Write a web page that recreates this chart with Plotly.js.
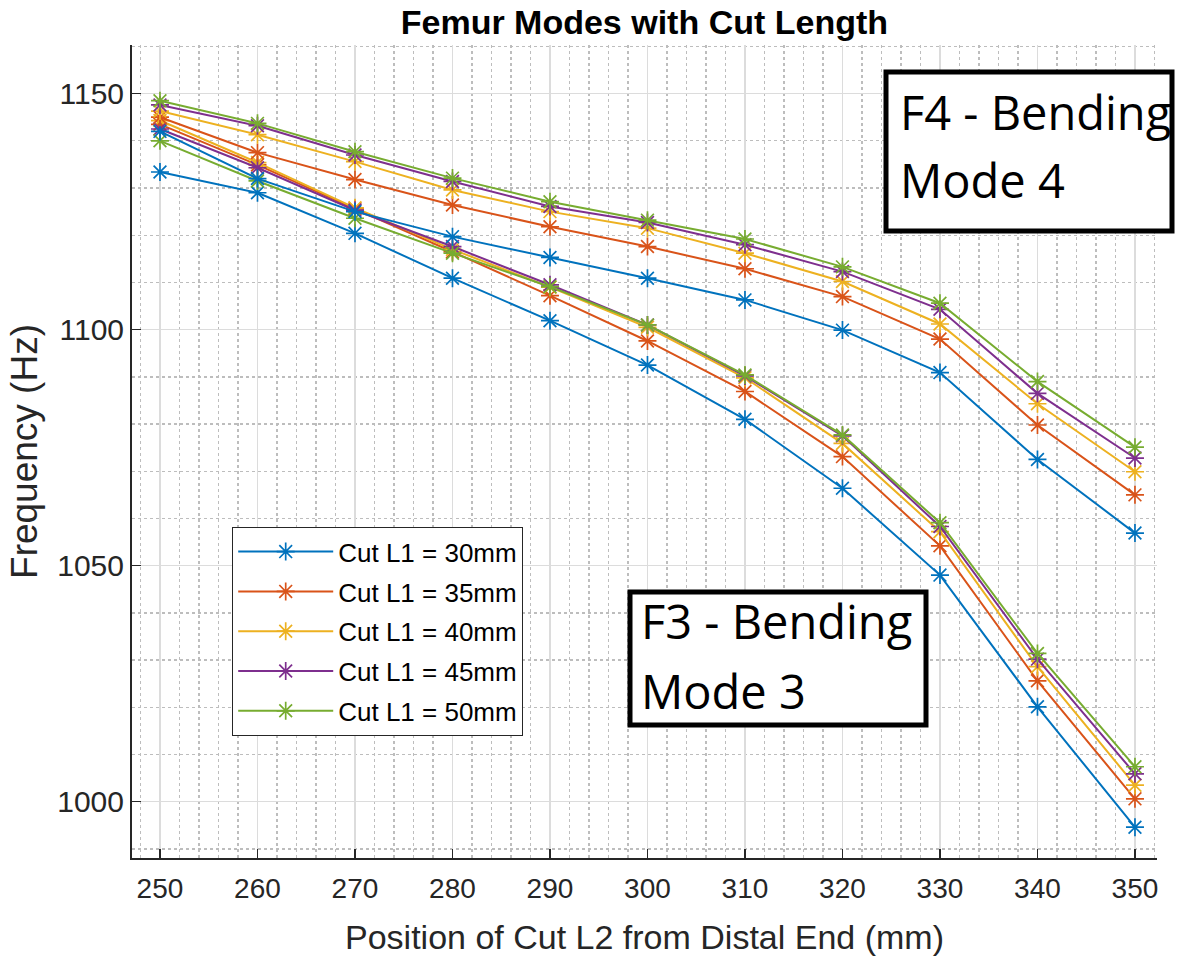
<!DOCTYPE html>
<html>
<head>
<meta charset="utf-8">
<script src="https://cdn.plot.ly/plotly-3.0.1.min.js"></script>
<style>html,body{margin:0;padding:0;background:#fff;}#chart{width:1200px;height:964px;}</style>
</head>
<body>
<div id="chart"></div>
<script>
// Position of Cut L2 from distal end (mm)
const positions = [250, 260, 270, 280, 290, 300, 310, 320, 330, 340, 350];
const seriesNames = ["Cut L1 = 30mm", "Cut L1 = 35mm", "Cut L1 = 40mm", "Cut L1 = 45mm", "Cut L1 = 50mm"];
const seriesColors = ["#0072BD", "#D95319", "#EDB120", "#7E2F8E", "#77AC30"];

// F4 - Bending Mode 4 (Hz)
const mode4_30 = [1142.0, 1132.0, 1125.0, 1119.7, 1115.3, 1110.9, 1106.3, 1099.9, 1090.9, 1072.5, 1056.9];
const mode4_35 = [1145.0, 1137.5, 1131.8, 1126.4, 1121.8, 1117.6, 1112.9, 1107.0, 1098.0, 1079.8, 1065.0];
const mode4_40 = [1146.3, 1141.3, 1135.6, 1129.6, 1125.0, 1121.5, 1116.2, 1110.2, 1101.2, 1084.3, 1069.9];
const mode4_45 = [1147.6, 1143.2, 1137.0, 1131.4, 1126.1, 1122.7, 1118.0, 1112.3, 1104.3, 1086.5, 1072.8];
const mode4_50 = [1148.5, 1143.7, 1137.7, 1132.1, 1127.1, 1123.2, 1119.2, 1113.3, 1105.6, 1089.0, 1075.1];

// F3 - Bending Mode 3 (Hz)
const mode3_30 = [1133.4, 1129.0, 1120.4, 1110.9, 1101.9, 1092.5, 1081.0, 1066.4, 1048.0, 1020.1, 994.6];
const mode3_35 = [1143.5, 1134.9, 1125.6, 1116.5, 1107.2, 1097.6, 1086.9, 1073.1, 1054.2, 1025.6, 1000.6];
const mode3_40 = [1144.3, 1135.4, 1125.8, 1117.0, 1109.0, 1100.5, 1089.8, 1075.9, 1057.2, 1028.6, 1003.5];
const mode3_45 = [1142.5, 1134.3, 1125.3, 1117.6, 1109.5, 1101.0, 1090.2, 1077.5, 1058.3, 1030.2, 1005.9];
const mode3_50 = [1140.0, 1131.5, 1123.6, 1116.2, 1109.1, 1101.0, 1090.4, 1077.7, 1059.1, 1031.4, 1007.4];

const xTicks = [250, 260, 270, 280, 290, 300, 310, 320, 330, 340, 350];
const yTicks = [1000, 1050, 1100, 1150];

const mode4 = [mode4_30, mode4_35, mode4_40, mode4_45, mode4_50];
const mode3 = [mode3_30, mode3_35, mode3_40, mode3_45, mode3_50];

const traces = [];
function mk(y, i, show) {
  return {
    x: positions, y: y, type: 'scatter', mode: 'lines+markers',
    name: seriesNames[i], legendgroup: 'g' + i, showlegend: show,
    line: {color: seriesColors[i], width: 2},
    marker: {symbol: 'asterisk-open', size: 15, color: seriesColors[i],
             line: {color: seriesColors[i], width: 1.7}}
  };
}
for (let i = 0; i < 5; i++) traces.push(mk(mode3[i], i, true));
for (let i = 0; i < 5; i++) traces.push(mk(mode4[i], i, false));

// pixel helpers for paper coordinates of the plot area (l=132, r=1157, t=45, b=858)
const px = v => (v - 132) / 1025;
const py = v => (858 - v) / 813;

const sans = 'Liberation Sans, Arial, sans-serif';
const boxFont = {family: 'Open Sans, Noto Sans, sans-serif', size: 47, color: '#000'};
function boxText(text, x, y) {
  return {xref: 'paper', yref: 'paper', x: px(x), y: py(y), xanchor: 'left', yanchor: 'middle',
          text: text, showarrow: false, align: 'left', font: boxFont};
}

const layout = {
  width: 1200, height: 964,
  margin: {l: 132, r: 43, t: 45, b: 106},
  paper_bgcolor: '#fff', plot_bgcolor: '#fff',
  title: {text: '<b>Femur Modes with Cut Length</b>', x: 0.537, xanchor: 'center', y: 0.977, yanchor: 'middle',
          font: {family: sans, size: 34, color: '#000'}},
  xaxis: {
    range: [247.13, 352.26], tickvals: xTicks, ticktext: xTicks.map(String),
    showline: true, linecolor: '#262626', linewidth: 2, mirror: false,
    ticks: 'inside', ticklen: 9, tickwidth: 1.5, tickcolor: '#262626',
    showgrid: true, gridcolor: '#dcdcdc', gridwidth: 1.5, zeroline: false,
    tickfont: {family: sans, size: 28, color: '#262626'}, ticklabelstandoff: 4,
    minor: {dtick: 2, showgrid: true, gridcolor: '#bdbdbd', griddash: 'dot', gridwidth: 1.3, ticks: ''},
    title: {text: 'Position of Cut L2 from Distal End (mm)', font: {family: sans, size: 34, color: '#262626'}, standoff: 23}
  },
  yaxis: {
    range: [988.07, 1160.3], tickvals: yTicks, ticktext: yTicks.map(String),
    showline: true, linecolor: '#262626', linewidth: 2, mirror: false,
    ticks: 'inside', ticklen: 9, tickwidth: 1.5, tickcolor: '#262626',
    showgrid: true, gridcolor: '#dcdcdc', gridwidth: 1.5, zeroline: false,
    tickfont: {family: sans, size: 30, color: '#262626'},
    minor: {dtick: 10, showgrid: true, gridcolor: '#bdbdbd', griddash: 'dot', gridwidth: 1.3, ticks: ''},
    title: {text: 'Frequency (Hz)', font: {family: sans, size: 37, color: '#262626'}, standoff: 8}
  },
  legend: {
    x: px(232), y: py(527), xanchor: 'left', yanchor: 'top',
    bgcolor: '#fff', bordercolor: '#262626', borderwidth: 1.2,
    font: {family: sans, size: 26, color: '#000'},
    itemwidth: 95, tracegroupgap: 3, traceorder: 'grouped', entrywidth: 318
  },
  shapes: [
    {type: 'rect', xref: 'paper', yref: 'paper', x0: px(886), x1: px(1172), y0: py(231), y1: py(72),
     line: {color: '#000', width: 5}, fillcolor: '#fff', layer: 'above'},
    {type: 'rect', xref: 'paper', yref: 'paper', x0: px(630), x1: px(926), y0: py(725), y1: py(592),
     line: {color: '#000', width: 5}, fillcolor: '#fff', layer: 'above'}
  ],
  annotations: [
    boxText('F4 - Bending', 898, 112),
    boxText('Mode 4', 898, 180),
    boxText('F3 - Bending', 639, 621),
    boxText('Mode 3', 639, 691)
  ]
};
Plotly.newPlot('chart', traces, layout, {displayModeBar: false, staticPlot: true});
</script>
</body>
</html>
